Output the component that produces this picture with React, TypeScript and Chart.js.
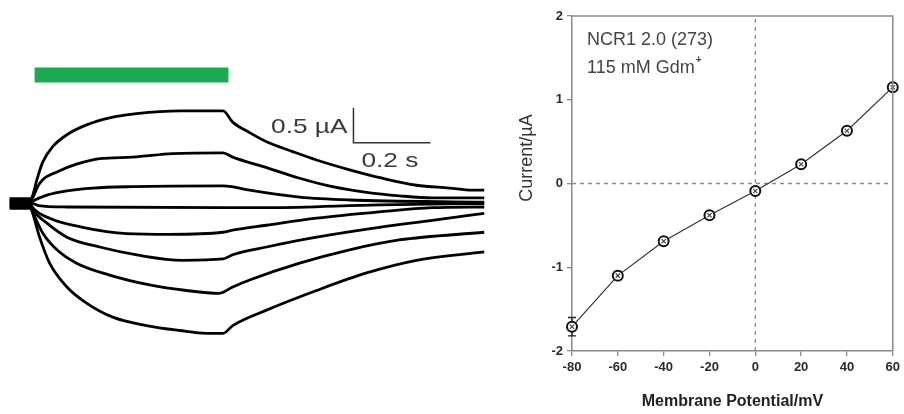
import React, { useEffect, useRef } from 'react';
import { Chart, registerables } from 'chart.js';

Chart.register(...registerables);

// ---------- Left panel: current traces (time in s, current in µA) ----------
const trace60: [number, number][] = [[-0.055,0.07],[0,0.07],[0.004,0.1],[0.016,0.34],[0.031,0.59],[0.057,0.81],[0.094,0.98],[0.145,1.12],[0.205,1.22],[0.275,1.28],[0.387,1.32],[0.5,1.32],[0.525,1.16],[0.569,1.01],[0.613,0.88],[0.681,0.74],[0.743,0.62],[0.829,0.48],[0.914,0.36],[1.003,0.26],[1.088,0.22],[1.148,0.19],[1.179,0.19]];
const trace40: [number, number][] = [[-0.055,0.05],[0,0.05],[0.005,0.08],[0.018,0.24],[0.031,0.34],[0.068,0.45],[0.119,0.56],[0.179,0.64],[0.265,0.66],[0.369,0.71],[0.5,0.72],[0.525,0.66],[0.613,0.51],[0.699,0.36],[0.784,0.24],[0.873,0.16],[0.958,0.11],[1.044,0.08],[1.179,0.08]];
const trace20: [number, number][] = [[-0.055,0.03],[0,0.03],[0.023,0.08],[0.042,0.12],[0.094,0.18],[0.161,0.22],[0.265,0.24],[0.5,0.25],[0.522,0.24],[0.569,0.19],[0.699,0.09],[0.829,0.05],[1.179,0.02]];
const trace0: [number, number][] = [[-0.055,0.01],[0,0.01],[0.02,-0.03],[0.094,-0.05],[0.5,-0.06],[0.621,-0.06],[0.906,-0.02],[1.179,0.0]];
const traceM20: [number, number][] = [[-0.055,-0.01],[0,-0.01],[0.005,-0.06],[0.049,-0.21],[0.135,-0.34],[0.249,-0.43],[0.361,-0.44],[0.5,-0.41],[0.525,-0.38],[0.613,-0.31],[0.743,-0.21],[0.906,-0.12],[1.044,-0.06],[1.179,-0.05]];
const traceM40: [number, number][] = [[-0.055,-0.03],[0,-0.03],[0.005,-0.09],[0.042,-0.28],[0.094,-0.48],[0.179,-0.62],[0.283,-0.74],[0.395,-0.81],[0.5,-0.79],[0.525,-0.73],[0.613,-0.62],[0.743,-0.48],[0.906,-0.34],[1.044,-0.24],[1.179,-0.14]];
const traceM60: [number, number][] = [[-0.055,-0.05],[0,-0.05],[0.005,-0.12],[0.031,-0.42],[0.068,-0.66],[0.119,-0.85],[0.205,-1.02],[0.309,-1.16],[0.405,-1.24],[0.49,-1.28],[0.525,-1.19],[0.569,-1.09],[0.699,-0.85],[0.829,-0.66],[0.958,-0.52],[1.179,-0.41]];
const traceM80: [number, number][] = [[-0.055,-0.07],[0,-0.07],[0.005,-0.14],[0.023,-0.48],[0.049,-0.85],[0.094,-1.19],[0.145,-1.42],[0.213,-1.62],[0.301,-1.74],[0.387,-1.81],[0.457,-1.85],[0.5,-1.85],[0.525,-1.74],[0.613,-1.52],[0.743,-1.24],[0.873,-0.99],[1.003,-0.81],[1.179,-0.69]];
const traces = [trace60, trace40, trace20, trace0, traceM20, traceM40, traceM60, traceM80];

const lightPeriod = [0.01, 0.514];   // s
const lightMarkLevel = 1.83;         // µA (vertical placement of stimulus bar)
const scaleBarOrigin = [0.839, 0.864]; // [s, µA]
const scaleBarTime = 0.2;            // s
const scaleBarCurrent = 0.5;         // µA
const scaleBarTimeLabel = '0.2 s';
const scaleBarCurrentLabel = '0.5 µA';

// ---------- Right panel: I-V curve ----------
const ivVoltages = [-80, -60, -40, -20, 0, 20, 40, 60];
const ivCurrents = [-1.71, -1.10, -0.69, -0.38, -0.09, 0.23, 0.63, 1.15];
const ivErrors = [0.11, 0.05, 0.03, 0.03, 0.03, 0.03, 0.04, 0.04];
const xTicksMin = -80, xTicksMax = 60, xTickStep = 20;
const yTicksMin = -2, yTicksMax = 2, yTickStep = 1;
const annotationLine1 = 'NCR1 2.0 (273)';
const annotationLine2 = '115 mM Gdm';
const annotationSup = '+';
const xTitle = 'Membrane Potential/mV';
const yTitle = 'Current/µA';

const FONT = "'Liberation Sans', Arial, Helvetica, sans-serif";

function LeftPanel() {
  const ref = useRef<HTMLCanvasElement>(null);
  useEffect(() => {
    if (!ref.current) return;
    const scaleText = {
      id: 'scaleText',
      afterDatasetsDraw(chart: any) {
        const { ctx, scales } = chart;
        const x0 = scales.x.getPixelForValue(scaleBarOrigin[0]);
        const yTop = scales.y.getPixelForValue(scaleBarOrigin[1] + scaleBarCurrent);
        const yBot = scales.y.getPixelForValue(scaleBarOrigin[1]);
        ctx.save();
        ctx.fillStyle = '#3a3a3a';
        ctx.font = `21px ${FONT}`;
        ctx.textBaseline = 'alphabetic';
        ctx.save();
        ctx.translate(x0 - 6, (yTop + yBot) / 2 + 8);
        ctx.scale(1.25, 1);
        ctx.textAlign = 'right';
        ctx.fillText(scaleBarCurrentLabel, 0, 0);
        ctx.restore();
        ctx.save();
        ctx.translate(x0 + 8, yBot + 24);
        ctx.scale(1.25, 1);
        ctx.textAlign = 'left';
        ctx.fillText(scaleBarTimeLabel, 0, 0);
        ctx.restore();
        ctx.restore();
      },
    };
    const datasets: any[] = traces.map((tr) => ({
      data: tr.map(([t, i]) => ({ x: t, y: i })),
      borderColor: '#000',
      borderWidth: 2.8,
      pointRadius: 0,
      cubicInterpolationMode: 'monotone',
    }));
    datasets.push({
      data: [{ x: lightPeriod[0], y: lightMarkLevel }, { x: lightPeriod[1], y: lightMarkLevel }],
      borderColor: '#1aab52',
      borderWidth: 15,
      borderCapStyle: 'butt',
      pointRadius: 0,
    });
    datasets.push({
      data: [
        { x: scaleBarOrigin[0], y: scaleBarOrigin[1] + scaleBarCurrent },
        { x: scaleBarOrigin[0], y: scaleBarOrigin[1] },
        { x: scaleBarOrigin[0] + scaleBarTime, y: scaleBarOrigin[1] },
      ],
      borderColor: '#333',
      borderWidth: 1.5,
      pointRadius: 0,
      tension: 0,
    });
    const chart = new Chart(ref.current, {
      type: 'line',
      data: { datasets },
      options: {
        animation: false,
        responsive: false,
        layout: { padding: 0 },
        plugins: { legend: { display: false }, tooltip: { enabled: false } },
        scales: {
          x: { type: 'linear', min: -0.08, max: 1.22, display: false },
          y: { type: 'linear', min: -3.0, max: 2.9, display: false },
        },
      },
      plugins: [scaleText],
    });
    return () => chart.destroy();
  }, []);
  return <canvas ref={ref} width={500} height={414} style={{ position: 'absolute', left: 0, top: 0 }} />;
}

function RightPanel() {
  const ref = useRef<HTMLCanvasElement>(null);
  useEffect(() => {
    if (!ref.current) return;
    const decor = {
      id: 'decor',
      beforeDatasetsDraw(chart: any) {
        const { ctx, scales } = chart;
        ctx.save();
        ctx.strokeStyle = '#222';
        ctx.lineWidth = 1.3;
        ivVoltages.forEach((v, i) => {
          const x = scales.x.getPixelForValue(v);
          const y1 = scales.y.getPixelForValue(ivCurrents[i] - ivErrors[i]);
          const y2 = scales.y.getPixelForValue(ivCurrents[i] + ivErrors[i]);
          ctx.beginPath();
          ctx.moveTo(x, y1); ctx.lineTo(x, y2);
          ctx.moveTo(x - 4, y1); ctx.lineTo(x + 4, y1);
          ctx.moveTo(x - 4, y2); ctx.lineTo(x + 4, y2);
          ctx.stroke();
        });
        ctx.restore();
      },
      afterDraw(chart: any) {
        const { ctx, chartArea } = chart;
        ctx.save();
        ctx.strokeStyle = '#8a8a8a';
        ctx.lineWidth = 1.5;
        ctx.beginPath();
        ctx.moveTo(chartArea.left, chartArea.top);
        ctx.lineTo(chartArea.right, chartArea.top);
        ctx.lineTo(chartArea.right, chartArea.bottom);
        ctx.stroke();
        ctx.fillStyle = '#444';
        ctx.font = `18px ${FONT}`;
        ctx.textAlign = 'left';
        ctx.textBaseline = 'alphabetic';
        const ax = chartArea.left + 15;
        ctx.fillText(annotationLine1, ax, chartArea.top + 29);
        ctx.fillText(annotationLine2, ax, chartArea.top + 57);
        const w = ctx.measureText(annotationLine2).width;
        ctx.font = `bold 10px ${FONT}`;
        ctx.fillText(annotationSup, ax + w + 1, chartArea.top + 47);
        ctx.fillStyle = '#222';
        ctx.font = `bold 16px ${FONT}`;
        ctx.textAlign = 'center';
        ctx.textBaseline = 'middle';
        ctx.fillText(xTitle, (chartArea.left + chartArea.right) / 2, 402);
        ctx.save();
        ctx.translate(27, 158);
        ctx.rotate(-Math.PI / 2);
        ctx.font = `18px ${FONT}`;
        ctx.fillStyle = '#333';
        ctx.fillText(yTitle, 0, 0);
        ctx.restore();
        ctx.restore();
      },
    };
    const ivPoints = ivVoltages.map((v, i) => ({ x: v, y: ivCurrents[i] }));
    const tickFont = { family: FONT, weight: 'bold' as const, size: 13 };
    const chart = new Chart(ref.current, {
      type: 'line',
      data: {
        datasets: [
          {
            data: [{ x: 0, y: yTicksMin }, { x: 0, y: yTicksMax }], order: 3,
            borderColor: '#8a8a8a', borderWidth: 1.3, borderDash: [4, 4], pointRadius: 0,
          },
          {
            data: [{ x: xTicksMin, y: 0 }, { x: xTicksMax, y: 0 }], order: 3,
            borderColor: '#8a8a8a', borderWidth: 1.3, borderDash: [4, 4], pointRadius: 0,
          },
          {
            data: ivPoints, clip: false, order: 2,
            borderColor: '#333', borderWidth: 1.2, tension: 0,
            pointRadius: 5, pointBorderWidth: 2, pointBorderColor: '#111',
            pointBackgroundColor: '#fff',
          },
          {
            data: ivPoints, showLine: false, clip: false, order: 1,
            pointStyle: 'crossRot', pointRadius: 3, pointBorderWidth: 1.2, pointBorderColor: '#444',
            pointBackgroundColor: '#444',
          },
        ],
      },
      options: {
        animation: false,
        responsive: false,
        layout: { padding: { top: 16, right: 8, left: 0, bottom: 0 } },
        plugins: { legend: { display: false }, tooltip: { enabled: false } },
        scales: {
          x: {
            type: 'linear', min: xTicksMin, max: xTicksMax,
            ticks: { stepSize: xTickStep, font: tickFont, color: '#2a2a2a', padding: 4, maxRotation: 0 },
            grid: { drawOnChartArea: false, tickLength: 5, color: '#8a8a8a', lineWidth: 1.3 },
            border: { color: '#8a8a8a', width: 1.5 },
            afterFit: (s: any) => { s.height = 63; },
          },
          y: {
            type: 'linear', min: yTicksMin, max: yTicksMax,
            ticks: { stepSize: yTickStep, font: tickFont, color: '#2a2a2a', padding: 4 },
            grid: { drawOnChartArea: false, tickLength: 5, color: '#8a8a8a', lineWidth: 1.3 },
            border: { color: '#8a8a8a', width: 1.5 },
            afterFit: (s: any) => { s.width = 72; },
          },
        },
      },
      plugins: [decor],
    });
    return () => chart.destroy();
  }, []);
  return <canvas ref={ref} width={404} height={414} style={{ position: 'absolute', left: 500, top: 0 }} />;
}

export default function App() {
  return (
    <div style={{ position: 'fixed', left: 0, top: 0, width: 904, height: 414, background: '#fff', overflow: 'hidden' }}>
      <LeftPanel />
      <RightPanel />
    </div>
  );
}
